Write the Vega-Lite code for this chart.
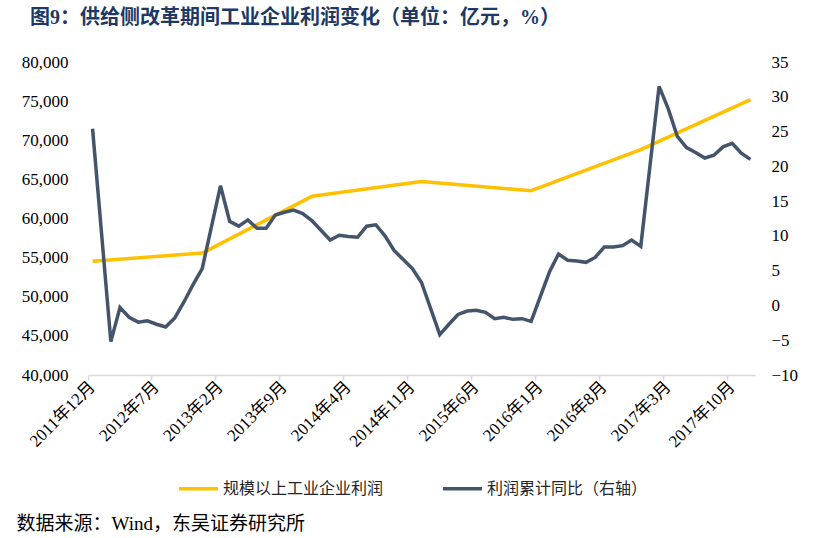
{
  "$schema": "https://vega.github.io/schema/vega-lite/v6.json",
  "width": 667,
  "height": 313,
  "autosize": {"type": "none"},
  "padding": {"left": 88, "top": 62, "right": 60, "bottom": 163},
  "background": "white",
  "config": {
    "font": "Liberation Serif, Noto Sans CJK SC",
    "view": {"stroke": null}
  },
  "title": {
    "text": "图9：供给侧改革期间工业企业利润变化（单位：亿元，%）",
    "anchor": "start",
    "frame": "group",
    "dx": -58,
    "offset": 25,
    "fontSize": 20,
    "fontWeight": "bold",
    "color": "#203864",
    "font": "Liberation Serif, Noto Sans CJK SC"
  },
  "datasets": {
    "profit": [
      {"m": "2011年12月", "v": 54544},
      {"m": "2012年12月", "v": 55578},
      {"m": "2013年12月", "v": 62831},
      {"m": "2014年12月", "v": 64715},
      {"m": "2015年12月", "v": 63554},
      {"m": "2016年12月", "v": 68803},
      {"m": "2017年12月", "v": 75187}
    ],
    "growth": [
      {"m": "2011年12月", "v": 25.4},
      {"m": "2012年2月", "v": -5.2},
      {"m": "2012年3月", "v": -0.3},
      {"m": "2012年4月", "v": -1.7},
      {"m": "2012年5月", "v": -2.4},
      {"m": "2012年6月", "v": -2.2},
      {"m": "2012年7月", "v": -2.7},
      {"m": "2012年8月", "v": -3.1},
      {"m": "2012年9月", "v": -1.8},
      {"m": "2012年10月", "v": 0.5},
      {"m": "2012年11月", "v": 3.0},
      {"m": "2012年12月", "v": 5.3},
      {"m": "2013年2月", "v": 17.2},
      {"m": "2013年3月", "v": 12.1},
      {"m": "2013年4月", "v": 11.4},
      {"m": "2013年5月", "v": 12.3},
      {"m": "2013年6月", "v": 11.1},
      {"m": "2013年7月", "v": 11.1},
      {"m": "2013年8月", "v": 13.0},
      {"m": "2013年9月", "v": 13.4},
      {"m": "2013年10月", "v": 13.7},
      {"m": "2013年11月", "v": 13.2},
      {"m": "2013年12月", "v": 12.2},
      {"m": "2014年2月", "v": 9.4},
      {"m": "2014年3月", "v": 10.1},
      {"m": "2014年4月", "v": 9.9},
      {"m": "2014年5月", "v": 9.8},
      {"m": "2014年6月", "v": 11.4},
      {"m": "2014年7月", "v": 11.6},
      {"m": "2014年8月", "v": 10.0},
      {"m": "2014年9月", "v": 7.9},
      {"m": "2014年10月", "v": 6.6},
      {"m": "2014年11月", "v": 5.3},
      {"m": "2014年12月", "v": 3.3},
      {"m": "2015年2月", "v": -4.2},
      {"m": "2015年3月", "v": -2.7},
      {"m": "2015年4月", "v": -1.3},
      {"m": "2015年5月", "v": -0.8},
      {"m": "2015年6月", "v": -0.7},
      {"m": "2015年7月", "v": -1.0},
      {"m": "2015年8月", "v": -1.9},
      {"m": "2015年9月", "v": -1.7},
      {"m": "2015年10月", "v": -2.0},
      {"m": "2015年11月", "v": -1.9},
      {"m": "2015年12月", "v": -2.3},
      {"m": "2016年2月", "v": 4.8},
      {"m": "2016年3月", "v": 7.4},
      {"m": "2016年4月", "v": 6.5},
      {"m": "2016年5月", "v": 6.4},
      {"m": "2016年6月", "v": 6.2},
      {"m": "2016年7月", "v": 6.9},
      {"m": "2016年8月", "v": 8.4},
      {"m": "2016年9月", "v": 8.4},
      {"m": "2016年10月", "v": 8.6},
      {"m": "2016年11月", "v": 9.4},
      {"m": "2016年12月", "v": 8.5},
      {"m": "2017年2月", "v": 31.5},
      {"m": "2017年3月", "v": 28.3},
      {"m": "2017年4月", "v": 24.3},
      {"m": "2017年5月", "v": 22.7},
      {"m": "2017年6月", "v": 22.0},
      {"m": "2017年7月", "v": 21.2},
      {"m": "2017年8月", "v": 21.6},
      {"m": "2017年9月", "v": 22.8},
      {"m": "2017年10月", "v": 23.3},
      {"m": "2017年11月", "v": 21.9},
      {"m": "2017年12月", "v": 21.0}
    ]
  },
  "encoding": {
    "x": {
      "field": "m",
      "type": "ordinal",
      "bandPosition": 0.5,
      "scale": {
        "type": "band",
        "paddingInner": 0,
        "paddingOuter": 0,
        "domain": [
          "2011年12月",
          "2012年1月", "2012年2月", "2012年3月", "2012年4月", "2012年5月", "2012年6月", "2012年7月", "2012年8月", "2012年9月", "2012年10月", "2012年11月", "2012年12月",
          "2013年1月", "2013年2月", "2013年3月", "2013年4月", "2013年5月", "2013年6月", "2013年7月", "2013年8月", "2013年9月", "2013年10月", "2013年11月", "2013年12月",
          "2014年1月", "2014年2月", "2014年3月", "2014年4月", "2014年5月", "2014年6月", "2014年7月", "2014年8月", "2014年9月", "2014年10月", "2014年11月", "2014年12月",
          "2015年1月", "2015年2月", "2015年3月", "2015年4月", "2015年5月", "2015年6月", "2015年7月", "2015年8月", "2015年9月", "2015年10月", "2015年11月", "2015年12月",
          "2016年1月", "2016年2月", "2016年3月", "2016年4月", "2016年5月", "2016年6月", "2016年7月", "2016年8月", "2016年9月", "2016年10月", "2016年11月", "2016年12月",
          "2017年1月", "2017年2月", "2017年3月", "2017年4月", "2017年5月", "2017年6月", "2017年7月", "2017年8月", "2017年9月", "2017年10月", "2017年11月", "2017年12月"
        ]
      },
      "axis": {
        "values": ["2011年12月", "2012年7月", "2013年2月", "2013年9月", "2014年4月", "2014年11月", "2015年6月", "2016年1月", "2016年8月", "2017年3月", "2017年10月"],
        "bandPosition": 0,
        "labelAngle": -45,
        "labelAlign": "right",
        "labelBaseline": "middle",
        "labelFontSize": 17,
        "labelColor": "#000000",
        "labelPadding": 4,
        "labelFont": "Liberation Serif, Noto Sans CJK SC",
        "domainColor": "#D9D9D9",
        "domainWidth": 1.5,
        "tickColor": "#D9D9D9",
        "tickWidth": 1.5,
        "tickSize": 5,
        "grid": false,
        "title": "数据来源：Wind，东吴证券研究所",
        "titleX": -72,
        "titleY": 154,
        "titleAlign": "left",
        "titleAnchor": null,
        "titleBaseline": "alphabetic",
        "titleFontSize": 19,
        "titleFontWeight": "normal",
        "titleColor": "#000000",
        "titleFont": "Liberation Serif, Noto Sans CJK SC"
      }
    }
  },
  "layer": [
    {
      "data": {"name": "profit"},
      "mark": {"type": "line", "strokeWidth": 3.5, "strokeJoin": "round"},
      "encoding": {
        "y": {
          "field": "v",
          "type": "quantitative",
          "scale": {"domain": [40000, 80000], "nice": false, "zero": false},
          "axis": {
            "orient": "left",
            "values": [40000, 45000, 50000, 55000, 60000, 65000, 70000, 75000, 80000],
            "format": ",.0f",
            "domain": false,
            "ticks": false,
            "grid": false,
            "labelPadding": 20,
            "labelFontSize": 17,
            "labelColor": "#000000",
            "title": null
          }
        },
        "color": {
          "datum": "规模以上工业企业利润",
          "type": "nominal",
          "scale": {
            "domain": ["规模以上工业企业利润", "利润累计同比（右轴）"],
            "range": ["#FFC000", "#44546A"]
          },
          "legend": {
            "orient": "none",
            "legendX": 89,
            "legendY": 405,
            "direction": "horizontal",
            "title": null,
            "symbolType": "stroke",
            "symbolSize": 1521,
            "symbolStrokeWidth": 3.5,
            "labelFontSize": 16,
            "labelLimit": 400,
            "labelColor": "#262626",
            "labelFont": "Liberation Serif, Noto Sans CJK SC",
            "labelOffset": 3,
            "columnPadding": 52,
            "padding": 0
          }
        }
      }
    },
    {
      "data": {"name": "growth"},
      "mark": {"type": "line", "strokeWidth": 3.5, "strokeJoin": "miter"},
      "encoding": {
        "y": {
          "field": "v",
          "type": "quantitative",
          "scale": {"domain": [-10, 35], "nice": false, "zero": false},
          "axis": {
            "orient": "right",
            "values": [-10, -5, 0, 5, 10, 15, 20, 25, 30, 35],
            "domain": false,
            "ticks": false,
            "grid": false,
            "labelPadding": 16,
            "labelFontSize": 17,
            "labelColor": "#000000",
            "title": null
          }
        },
        "color": {"datum": "利润累计同比（右轴）", "type": "nominal"}
      }
    }
  ],
  "resolve": {"scale": {"y": "independent"}}
}
